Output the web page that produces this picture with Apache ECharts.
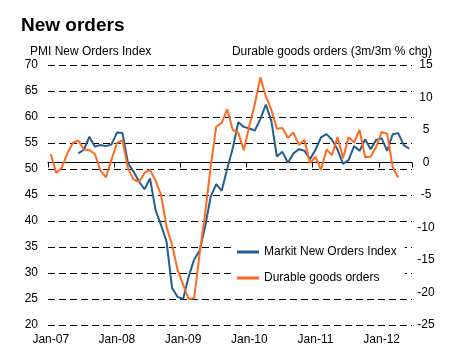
<!DOCTYPE html>
<html>
<head>
<meta charset="utf-8">
<script src="https://cdn.jsdelivr.net/npm/echarts@6/dist/echarts.min.js"></script>
<style>
  html, body { margin: 0; padding: 0; background: #fff; }
  #chart { width: 457px; height: 359px; }
</style>
</head>
<body>
<div id="chart"></div>
<script>
// ---- Data ----
const monthNames = ['Jan','Feb','Mar','Apr','May','Jun','Jul','Aug','Sep','Oct','Nov','Dec'];
const years = ['07','08','09','10','11','12'];
const lastMonthIndex = 5; // Jun-12
const categories = [];
years.forEach(function (y, yi) {
  monthNames.forEach(function (m, mi) {
    if (yi < years.length - 1 || mi <= lastMonthIndex) categories.push(m + '-' + y);
  });
});

const tickLabels = ['Jan-07', 'Jan-08', 'Jan-09', 'Jan-10', 'Jan-11', 'Jan-12'];

// Markit New Orders Index (left axis), Jan-07 .. Jun-12
const markitNewOrders = [
  null, null, null, null, null, 53.0, 53.7, 56.2, 54.3, 54.6, 54.4, 54.7,
  57.0, 56.9, 51.1, 49.5, 47.6, 46.1, 48.2, 42.1, 39.2, 36.0, 27.1, 25.4,
  25.0, 29.3, 32.6, 34.3, 39.0, 44.7, 47.1, 45.8, 50.1, 54.0, 59.0, 58.1,
  57.8, 57.4, 59.6, 62.4, 59.2, 52.4, 53.3, 51.2, 53.0, 53.8, 53.5, 51.9,
  53.7, 56.1, 56.7, 55.6, 53.7, 51.0, 51.7, 54.4, 53.5, 55.7, 53.8, 55.6,
  55.9, 53.5, 56.7, 56.9, 54.6, 53.9
];

// Durable goods orders, 3m/3m % chg (right axis), Jan-07 .. Jun-12
const durableGoods = [
  1.3, -1.6, -0.8, 1.4, 3.0, 3.4, 2.0, 1.9, 1.3, -1.2, -2.3, 0.4,
  3.0, 3.4, -0.9, -2.6, -3.0, -1.6, -1.1, -2.8, -5.0, -9.9, -12.7, -16.5,
  -18.8, -21.0, -20.9, -14.0, -7.8, -0.6, 5.5, 6.1, 8.2, 5.0, 4.6, 1.9,
  5.6, 9.0, 13.1, 10.2, 8.1, 5.2, 5.3, 3.8, 4.6, 2.7, 3.5, -0.1,
  0.9, -1.15, 2.0, 1.15, 3.9, 0.7, 3.9, 3.1, 5.0, 0.8, 0.9, 2.4,
  4.7, 4.4, -0.7, -2.3, null, null
];

const seriesNames = ['Markit New Orders Index', 'Durable goods orders'];
const seriesColors = ['#245d8f', '#ff6a1f'];

// ---- Chart ----
const FONT = '"Liberation Sans", Arial, sans-serif';
const chart = echarts.init(document.getElementById('chart'), null, { renderer: 'canvas' });

const option = {
  animation: false,
  backgroundColor: '#fff',
  textStyle: { fontFamily: FONT },
  title: [
    { text: 'New orders', left: 16, top: 11,
      textStyle: { fontFamily: FONT, fontSize: 19, fontWeight: 'bold', color: '#000' } },
    { text: 'PMI New Orders Index', left: 25, top: 41,
      textStyle: { fontFamily: FONT, fontSize: 12, fontWeight: 'normal', color: '#000' } },
    { text: 'Durable goods orders (3m/3m % chg)', right: 20, top: 41,
      textStyle: { fontFamily: FONT, fontSize: 12, fontWeight: 'normal', color: '#000' } }
  ],
  grid: { left: 48, right: 45, top: 65, bottom: 34, containLabel: false },
  legend: {
    orient: 'vertical',
    left: 232, top: 238,
    padding: [8, 8, 8, 5],
    backgroundColor: '#fff',
    icon: 'rect',
    itemWidth: 22, itemHeight: 3, itemGap: 14,
    textStyle: { fontFamily: FONT, fontSize: 12, color: '#000' },
    data: [
      { name: seriesNames[0], itemStyle: { color: seriesColors[0] } },
      { name: seriesNames[1], itemStyle: { color: seriesColors[1] } }
    ]
  },
  xAxis: {
    type: 'category',
    data: categories,
    boundaryGap: true,
    axisLine: { show: true, lineStyle: { color: '#000', width: 1 } },
    axisTick: {
      show: true, length: 5, lineStyle: { color: '#000' },
      interval: function (i, v) { return tickLabels.indexOf(v) >= 0; }
    },
    axisLabel: {
      interval: function (i, v) { return tickLabels.indexOf(v) >= 0; },
      margin: 9, color: '#000', fontSize: 12, fontFamily: FONT
    },
    splitLine: { show: false }
  },
  yAxis: [
    {
      type: 'value', min: 20, max: 70, interval: 5,
      axisLine: { show: false }, axisTick: { show: false },
      axisLabel: { margin: 10, color: '#000', fontSize: 12, fontFamily: FONT },
      splitLine: { show: true, lineStyle: { color: '#000', width: 1, type: [7, 4] } }
    },
    {
      type: 'value', min: -25, max: 15, interval: 5,
      axisLine: { show: false }, axisTick: { show: false },
      axisLabel: { margin: 14, align: 'center', color: '#000', fontSize: 12, fontFamily: FONT },
      splitLine: { show: false }
    }
  ],
  series: [
    {
      name: seriesNames[0], type: 'line', yAxisIndex: 0,
      data: markitNewOrders, symbol: 'none', connectNulls: false,
      lineStyle: { color: seriesColors[0], width: 2 },
      itemStyle: { color: seriesColors[0] }
    },
    {
      name: seriesNames[1], type: 'line', yAxisIndex: 1,
      data: durableGoods, symbol: 'none', connectNulls: false,
      lineStyle: { color: seriesColors[1], width: 2 },
      itemStyle: { color: seriesColors[1] }
    }
  ]
};
chart.setOption(option);
</script>
</body>
</html>
